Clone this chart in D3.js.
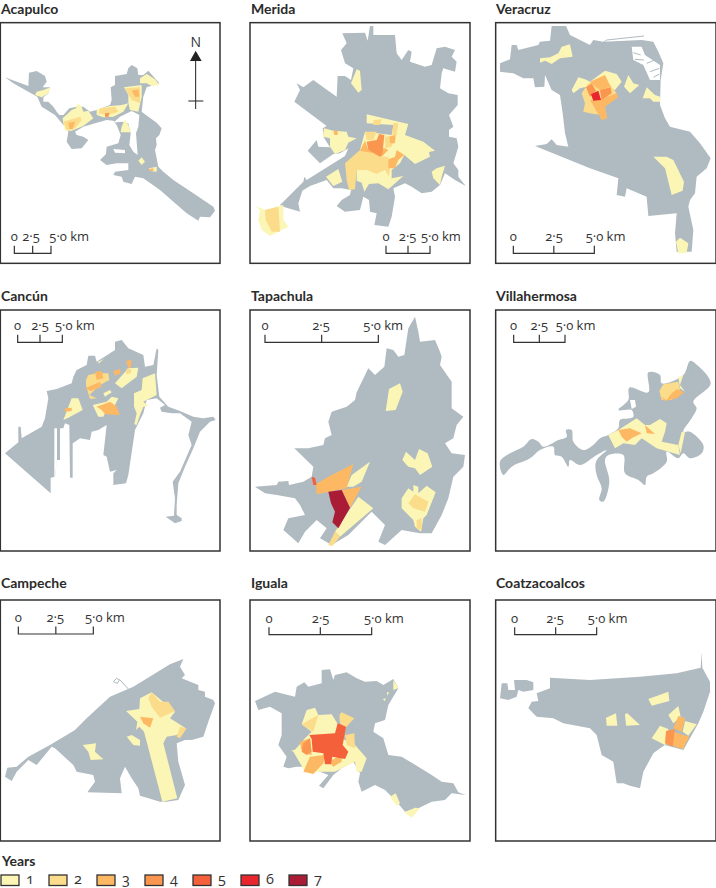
<!DOCTYPE html>
<html><head><meta charset="utf-8">
<script src="https://cdn.jsdelivr.net/npm/d3@7/dist/d3.min.js"></script>
<style>html,body{margin:0;padding:0;background:#fff}svg{display:block}text{font-family:"Open Sans",sans-serif;fill:#333}.ttl{font-family:Lato,sans-serif;font-weight:700;font-size:14px;fill:#2b2b2b}</style>
</head><body><svg id="c" width="716" height="888"></svg>
<script>
const cities=["Acapulco","Merida","Veracruz","Cancún","Tapachula","Villahermosa","Campeche","Iguala","Coatzacoalcos"];
const years=[1,2,3,4,5,6,7];
const yearColours=["#fbf6b6","#fbdc8a","#fdb863","#fb9650","#f4603a","#e8262d","#aa1b36"];
const scaleTicks=[0,2.5,5];

const acapulcoLand=[[[15,232],[30,238],[85,258],[87,218],[110,213],[125,222],[135,228],[140,245],[128,262],[150,262],[145,280],[130,292],[130,305],[145,305],[160,320],[170,335],[178,345],[190,345],[208,325],[230,320],[250,320],[270,335],[290,330],[330,315],[335,300],[332,262],[345,255],[345,228],[380,222],[385,205],[395,195],[412,205],[415,225],[430,225],[445,212],[478,250],[440,262],[430,290],[425,335],[445,350],[470,368],[485,385],[478,405],[468,415],[470,435],[465,450],[475,500],[490,515],[520,540],[580,580],[640,620],[645,632],[630,652],[600,650],[595,662],[560,640],[480,570],[430,535],[405,530],[395,552],[370,545],[365,530],[340,525],[345,515],[385,510],[385,490],[350,490],[320,495],[300,480],[318,462],[320,440],[355,430],[362,405],[350,375],[340,362],[320,360],[285,370],[250,380],[225,395],[230,405],[250,410],[265,420],[245,445],[215,447],[200,425],[205,395],[190,375],[165,345],[125,320],[112,290],[85,275],[40,250]]];
const acapulcoHoles=[[[340,368],[360,350],[395,333],[418,345],[415,380],[408,400],[413,465],[400,455],[388,435],[392,400],[385,370],[365,365]],[[340,447],[375,450],[375,460],[345,458]]];
const acapulcoZones=[
[1,[[110,275],[130,270],[152,262],[145,280],[125,292],[105,285]]],
[1,[[188,355],[215,330],[228,325],[232,310],[245,320],[250,335],[265,332],[280,355],[250,378],[215,392],[195,392],[190,372]]],
[2,[[190,365],[240,350],[245,360],[225,385],[200,390]]],
[3,[[205,368],[225,365],[218,388],[208,388]]],
[1,[[290,328],[330,318],[365,315],[385,310],[370,335],[340,350],[310,352],[290,345]]],
[2,[[300,325],[345,320],[355,335],[325,345],[295,340]]],
[4,[[315,340],[328,338],[325,352],[315,350]]],
[1,[[372,262],[425,255],[425,290],[415,335],[390,330],[385,310],[385,285]]],
[2,[[375,265],[420,262],[420,310],[395,300]]],
[3,[[395,272],[415,268],[418,290],[405,290]]],
[1,[[420,235],[440,222],[465,238],[478,255],[455,258],[440,250],[420,250]]],
[1,[[365,380],[375,358],[385,375],[392,397],[362,397]]],
[1,[[415,482],[425,472],[435,485],[425,495]]],
[1,[[447,505],[470,500],[470,515],[450,513]]],
[3,[[447,507],[460,505],[460,513],[450,513]]]];

const meridaLand=[[[148,305],[165,270],[155,250],[175,262],[205,240],[235,262],[275,290],[278,228],[300,228],[318,240],[325,205],[300,190],[288,150],[305,130],[292,100],[360,98],[368,122],[375,78],[385,78],[385,105],[450,105],[455,160],[470,180],[490,150],[500,155],[495,185],[540,200],[560,195],[575,145],[600,140],[630,150],[620,170],[635,185],[630,215],[595,205],[590,220],[585,265],[610,280],[638,285],[638,315],[612,345],[625,380],[612,390],[612,410],[635,415],[640,440],[625,490],[640,510],[640,530],[662,558],[630,540],[600,520],[585,555],[560,575],[530,580],[500,560],[480,550],[445,565],[450,590],[440,650],[430,680],[388,675],[395,640],[375,635],[372,600],[355,590],[345,630],[300,635],[275,618],[290,600],[315,585],[318,570],[290,565],[265,565],[245,540],[195,558],[172,572],[160,610],[165,635],[115,620],[105,615],[175,545],[178,530],[185,540],[300,468],[310,445],[285,460],[265,462],[225,490],[188,452],[215,420],[220,440],[255,442],[235,410],[233,385],[245,378]]];
const meridaHoles=[];
const meridaZones=[
[1,[[32,618],[60,630],[115,615],[115,660],[130,680],[100,695],[75,708],[50,690],[40,660],[45,630]]],
[2,[[60,630],[100,620],[105,695],[80,695],[62,660]]],
[1,[[237,385],[265,392],[305,395],[310,410],[335,415],[310,428],[300,450],[270,462],[255,440],[255,415],[233,410]]],
[3,[[265,392],[278,392],[278,405],[268,405]]],
[1,[[243,530],[280,507],[292,545],[265,558]]],
[1,[[318,250],[335,208],[345,212],[350,270],[340,278]]],
[1,[[560,515],[575,505],[600,497],[590,530],[585,555],[565,535]]],
[1,[[365,343],[490,372],[480,405],[535,425],[570,452],[552,456],[555,470],[510,492],[478,465],[465,490],[440,510],[440,535],[475,528],[430,568],[400,550],[372,552],[358,575],[350,548],[335,542],[335,510],[400,480],[345,450],[360,395],[440,405],[445,375],[365,370]]],
[2,[[300,490],[345,450],[375,452],[420,470],[430,470],[435,505],[432,530],[420,510],[395,522],[365,510],[335,510],[330,568],[312,570],[305,540]]],
[2,[[420,410],[450,405],[440,440],[420,445]]],
[2,[[385,360],[410,358],[405,375],[385,375]]],
[2,[[445,368],[460,370],[455,405],[442,405]]],
[2,[[360,395],[395,395],[385,420],[365,420]]],
[3,[[433,410],[452,405],[450,430],[435,430]]],
[3,[[345,452],[360,422],[370,450],[400,468],[380,458]]],
[3,[[408,445],[412,468],[430,450],[420,445]]],
[3,[[430,478],[450,470],[455,450],[478,465],[460,480],[450,505],[430,505]]],
[4,[[365,425],[395,420],[402,402],[418,405],[412,465],[405,470],[370,450]]]];

const veracruzLand=[[[30,190],[60,178],[65,135],[80,135],[85,150],[145,135],[150,125],[180,122],[185,78],[228,78],[240,105],[300,135],[310,120],[340,125],[455,120],[490,125],[505,155],[520,190],[512,240],[510,315],[525,355],[540,380],[600,395],[630,430],[662,475],[650,505],[620,530],[615,580],[600,600],[595,620],[610,690],[605,755],[560,755],[555,700],[560,640],[475,648],[470,590],[410,565],[405,590],[380,585],[385,535],[300,505],[135,438],[170,432],[185,418],[200,435],[235,440],[225,400],[218,340],[210,285],[185,270],[165,225],[163,260],[135,262],[130,235],[100,235],[70,220],[30,215]]];
const veracruzHoles=[[[425,140],[455,140],[465,165],[510,195],[510,240],[480,240],[460,195],[430,180]]];
const veracruzLines=[[[340,127],[350,120],[462,108]],[[430,158],[452,165]],[[435,178],[462,180]],[[470,190],[495,180]],[[480,215],[508,205]],[[490,232],[508,222]]];
const veracruzZones=[
[1,[[150,175],[180,172],[205,160],[215,140],[240,133],[248,170],[210,175],[185,192],[165,182],[150,188]]],
[1,[[245,270],[265,232],[285,238],[300,245],[345,212],[380,222],[395,245],[375,270],[330,250],[290,260],[270,265],[250,280]]],
[1,[[402,260],[415,225],[430,250],[448,255],[420,280]]],
[1,[[458,295],[470,262],[495,285],[510,290],[510,305],[490,305],[480,295]]],
[1,[[490,470],[530,470],[550,480],[582,545],[578,572],[545,585],[525,505]]],
[1,[[558,725],[570,713],[595,730],[590,758],[565,760]]],
[2,[[275,280],[295,250],[345,235],[380,280],[345,320],[335,345],[300,340],[280,335],[285,310]]],
[3,[[300,245],[345,225],[362,260],[330,270],[310,255]]],
[3,[[300,300],[325,300],[380,280],[385,292],[345,320],[352,355],[335,360]]],
[4,[[288,262],[305,250],[318,272],[300,290]]],
[4,[[330,270],[362,262],[365,280],[335,300]]],
[6,[[303,283],[325,272],[333,300],[310,302]]]];

const cancunLand=[[[15,505],[55,472],[55,425],[62,425],[65,460],[125,425],[135,400],[145,340],[140,318],[170,312],[215,295],[220,275],[230,255],[260,240],[265,212],[285,212],[290,230],[345,195],[345,170],[365,165],[385,190],[430,210],[435,245],[460,240],[470,190],[475,195],[470,270],[478,335],[505,365],[540,378],[580,395],[610,400],[640,395],[647,405],[630,410],[600,440],[580,490],[555,545],[535,595],[530,660],[530,690],[545,700],[545,708],[525,715],[497,695],[522,692],[525,640],[518,590],[540,560],[575,480],[565,450],[575,410],[540,385],[515,385],[485,380],[480,368],[495,360],[470,340],[440,345],[430,385],[405,435],[385,570],[378,595],[340,600],[340,565],[350,555],[330,560],[320,515],[310,510],[320,420],[295,435],[275,440],[270,465],[240,460],[225,470],[218,475],[218,578],[210,578],[208,420],[195,415],[190,430],[180,430],[180,525],[170,525],[165,575],[152,578],[152,625]]];
const cancunHoles=[[[163,430],[171,430],[171,525],[165,575],[163,575]]];
const cancunZones=[
[1,[[428,280],[465,265],[470,330],[440,345],[430,350],[445,362],[430,365],[420,390],[410,420],[403,418],[410,385],[402,365],[402,325],[425,315]]],
[1,[[345,295],[385,250],[415,248],[410,275],[365,310]]],
[1,[[278,360],[320,350],[335,335],[355,340],[345,360],[320,375],[310,395],[295,395]]],
[1,[[190,405],[215,340],[235,340],[248,375],[205,398]]],
[1,[[310,325],[330,315],[335,322],[315,335]]],
[1,[[295,230],[312,222],[295,236]]],
[2,[[258,285],[265,270],[290,265],[325,265],[328,285],[300,300],[268,330],[290,340],[270,342],[262,315],[258,300]]],
[2,[[380,250],[395,255],[392,265],[378,268]]],
[3,[[285,260],[305,258],[310,280],[290,285]]],
[3,[[255,310],[300,290],[305,305],[272,318]]],
[3,[[340,258],[360,252],[362,265],[345,272]]],
[3,[[378,228],[395,225],[392,248],[385,248]]],
[3,[[195,370],[215,368],[215,378],[195,380]]],
[3,[[290,365],[330,350],[348,362],[360,390],[315,388],[305,375]]]];

const tapachulaLand=[[[30,605],[95,600],[100,590],[130,588],[132,600],[175,590],[200,575],[205,545],[148,490],[190,490],[235,480],[240,460],[260,450],[250,410],[260,380],[305,365],[330,345],[335,322],[370,250],[390,270],[418,245],[425,190],[445,195],[460,215],[478,210],[490,130],[510,95],[520,140],[525,170],[570,165],[585,200],[590,215],[585,240],[620,290],[620,370],[655,395],[635,420],[625,460],[600,475],[620,505],[660,510],[655,545],[625,575],[610,640],[590,690],[560,745],[525,745],[470,735],[420,780],[400,770],[420,720],[380,680],[340,720],[310,750],[260,780],[225,760],[245,730],[215,705],[180,740],[160,775],[115,735],[130,700],[180,690],[165,660],[150,640],[95,630],[60,625]]];
const tapachulaHoles=[];
const tapachulaZones=[
[1,[[422,378],[432,312],[465,295],[473,320],[452,375]]],
[1,[[472,525],[483,500],[510,525],[522,492],[548,505],[562,545],[525,570],[510,550],[490,545]]],
[1,[[470,640],[490,610],[505,620],[505,600],[520,605],[520,625],[545,602],[572,622],[545,690],[535,700],[528,740],[510,725],[505,705],[470,670]]],
[2,[[490,655],[510,628],[550,650],[540,680],[505,670]]],
[2,[[515,705],[530,700],[530,735],[515,730]]],
[1,[[270,740],[340,635],[385,670],[285,755]]],
[1,[[305,605],[320,570],[375,530],[350,590],[325,605]]],
[2,[[250,780],[270,740],[285,755],[262,783]]],
[3,[[213,597],[250,575],[325,537],[310,590],[305,610],[215,628]]],
[3,[[290,615],[350,605],[315,668]]],
[7,[[250,620],[290,615],[315,668],[280,730],[262,712],[270,680],[258,655]]],
[5,[[200,575],[210,578],[215,600],[205,600]]]];

const villahermosaLand=[[[30,530],[60,505],[100,485],[125,462],[145,470],[160,485],[205,465],[230,455],[228,435],[245,435],[250,470],[280,495],[310,480],[330,460],[355,450],[385,430],[390,405],[420,400],[430,395],[425,375],[385,375],[415,345],[418,308],[475,322],[475,262],[510,270],[515,295],[580,270],[600,228],[615,235],[662,295],[610,350],[620,370],[605,400],[580,440],[600,440],[640,480],[635,505],[600,520],[580,505],[565,520],[530,500],[530,530],[490,565],[470,575],[465,600],[445,585],[405,565],[400,510],[355,510],[345,525],[358,590],[340,650],[328,645],[335,610],[320,570],[318,530],[350,495],[320,510],[270,540],[240,525],[235,545],[215,515],[195,510],[190,485],[150,495],[120,520],[65,545],[40,570]]];
const villahermosaHoles=[[[420,345],[435,345],[438,365],[425,372]]];
const villahermosaZones=[
[1,[[355,450],[385,435],[440,400],[465,420],[480,420],[510,402],[530,415],[525,440],[515,470],[565,480],[570,510],[500,490],[455,460],[435,480],[400,475],[375,490],[365,470]]],
[1,[[565,480],[575,440],[585,442],[572,505]]],
[1,[[565,275],[580,270],[570,300],[585,320],[570,310]]],
[2,[[508,318],[520,298],[565,290],[570,315],[545,345],[515,345]]],
[3,[[530,345],[545,325],[562,312],[582,322],[560,340],[525,348],[510,335]]],
[3,[[385,435],[420,430],[455,445],[425,460],[410,470],[395,455]]],
[3,[[465,420],[495,447],[470,445]]]];

const campecheLand=[[[15,605],[22,578],[50,575],[85,545],[150,510],[225,465],[260,430],[330,365],[400,335],[510,268],[550,252],[540,275],[555,300],[545,310],[595,330],[595,345],[615,350],[615,365],[640,375],[645,385],[625,440],[610,485],[575,495],[555,495],[530,505],[535,560],[555,630],[535,675],[500,680],[480,680],[420,662],[415,640],[395,610],[375,575],[360,610],[365,655],[262,652],[285,620],[280,600],[230,590],[220,570],[165,520],[155,515],[110,570],[85,555],[50,590],[35,618]]];
const campecheHoles=[];
const campecheLines=[[[388,345],[360,315],[350,310],[340,320],[352,325],[358,315]]];
const campecheZones=[
[1,[[378,408],[418,402],[420,370],[455,352],[525,410],[510,430],[555,458],[530,480],[500,485],[490,505],[532,670],[487,680],[440,500],[432,470],[418,455],[408,465],[412,440]]],
[1,[[248,510],[288,505],[285,530],[310,553],[272,555],[265,530]]],
[1,[[380,485],[395,480],[420,495],[420,512],[400,510]]],
[2,[[445,370],[455,352],[480,380],[505,380],[525,408],[480,428],[455,395]]],
[2,[[540,455],[560,460],[540,490],[530,485]]],
[3,[[420,425],[460,430],[450,458],[430,445]]]];

const igualaLand=[[[30,378],[90,350],[150,365],[155,335],[178,322],[190,335],[230,325],[230,285],[255,283],[265,315],[270,300],[305,292],[335,310],[360,320],[395,318],[415,330],[445,312],[460,340],[430,390],[420,435],[390,445],[385,470],[415,490],[430,540],[470,545],[495,560],[560,600],[590,620],[625,625],[640,652],[662,660],[620,655],[600,675],[560,680],[520,700],[480,710],[455,680],[435,660],[420,645],[390,630],[350,650],[340,620],[345,595],[325,560],[290,580],[265,600],[235,640],[222,632],[250,600],[225,590],[190,570],[170,575],[155,575],[130,580],[115,575],[125,545],[100,510],[110,480],[110,415],[75,395],[40,405]]];
const igualaHoles=[];
const igualaZones=[
[1,[[445,315],[460,340],[445,345]]],
[1,[[425,352],[432,352],[428,362]]],
[1,[[413,372],[422,370],[420,378]]],
[1,[[435,665],[452,655],[465,685],[455,692]]],
[1,[[478,712],[510,698],[525,700],[500,728]]],
[1,[[170,448],[185,405],[210,398],[220,420],[260,418],[280,450],[270,480],[330,510],[365,550],[350,590],[335,590],[330,560],[270,590],[230,590],[180,590],[145,530],[180,490],[200,470]]],
[2,[[170,448],[220,420],[205,470]]],
[2,[[283,420],[290,412],[328,430],[302,458],[285,445]]],
[2,[[300,480],[328,475],[330,520],[305,510]]],
[3,[[175,590],[195,545],[240,540],[235,565],[205,597]]],
[3,[[165,500],[195,490],[200,540],[170,535]]],
[3,[[250,560],[290,540],[290,560],[265,575]]],
[1,[[138,527],[165,520],[190,540],[185,545]]],
[4,[[175,505],[195,490],[200,530],[185,540],[170,530]]],
[5,[[193,480],[270,475],[278,445],[303,455],[293,510],[310,530],[300,552],[262,545],[258,568],[240,568],[235,535],[203,530],[200,492]]]];

const coatzaLand=[[[30,370],[35,325],[52,325],[55,345],[75,345],[72,315],[110,315],[130,322],[130,345],[100,350],[85,345],[80,365],[55,375]],
[[180,308],[300,315],[450,305],[560,295],[632,278],[635,232],[637,278],[660,320],[660,350],[640,410],[625,445],[580,525],[525,510],[510,520],[490,535],[460,590],[450,640],[420,632],[400,625],[380,625],[370,560],[335,540],[320,480],[300,460],[220,445],[190,430],[140,425],[115,400],[125,380],[145,378],[140,355],[180,340]]];
const coatzaHoles=[];
const coatzaZones=[
[1,[[475,372],[535,350],[538,378],[485,392]]],
[1,[[535,420],[565,393],[572,425],[550,445]]],
[1,[[348,428],[378,415],[382,452],[392,452],[350,452]]],
[1,[[405,417],[412,415],[450,450],[408,452]]],
[1,[[485,490],[510,452],[535,462],[530,505],[525,510]]],
[1,[[585,438],[620,448],[595,482],[578,470]]],
[3,[[550,460],[565,423],[585,430],[575,470]]],
[3,[[550,470],[598,485],[578,523],[548,512]]],
[4,[[528,468],[555,462],[548,515],[525,505]]]];

const lands=[acapulcoLand,meridaLand,veracruzLand,cancunLand,tapachulaLand,villahermosaLand,campecheLand,igualaLand,coatzaLand];
const holes=[acapulcoHoles,meridaHoles,veracruzHoles,cancunHoles,tapachulaHoles,villahermosaHoles,campecheHoles,igualaHoles,coatzaHoles];
const zones=[acapulcoZones,meridaZones,veracruzZones,cancunZones,tapachulaZones,villahermosaZones,campecheZones,igualaZones,coatzaZones];
const lines=[[],[],veracruzLines,[],[],[],campecheLines,[],[]];

/* layout (source-map units, 3 per pixel) */
const originX=[0,245,490], originY=[0,285,575];
const frameX=[[1,660],[15,675],[17,678]], frameY=[[68,790],[75,798],[75,798]];
const titleY=[42,48,40], titleX=[3,18,18];
const barX=[[43,153],[423,555],[70,313],[53,187],[60,400],[71,225],[55,280],[72,380],[74,320]];
const barY=[760,760,760,172,172,172,177,179,179];
const midLabelX=[93,488,192,120,228,148,166,227,195];
const endLabelX=[148,528,287,165,355,197,255,357,293];

const svg=d3.select("#c");
const GREY="#b0bac1",INK="#333";
const color=d3.scaleOrdinal(years,yearColours);

cities.forEach((name,i)=>{
  const col=i%3,row=Math.floor(i/3);
  const x=d3.scaleLinear([0,720],[originX[col],originX[col]+240]);
  const y=d3.scaleLinear([0,720],[originY[row],originY[row]+240]);
  const path=d3.line().x(d=>x(d[0])).y(d=>y(d[1]));
  const closed=p=>path(p)+"Z";
  const smooth=d3.line().x(d=>x(d[0])).y(d=>y(d[1])).curve(d3.curveCatmullRomClosed.alpha(0.5));
  const g=svg.append("g");
  g.append("text").attr("class","ttl").attr("x",x(titleX[col])).attr("y",y(titleY[row])).text(name);
  g.append("rect").attr("x",x(frameX[col][0])).attr("y",y(frameY[row][0]))
    .attr("width",x(frameX[col][1])-x(frameX[col][0])).attr("height",y(frameY[row][1])-y(frameY[row][0]))
    .attr("fill","#fff").attr("stroke",INK).attr("stroke-width",1.5);
  g.selectAll(".land").data(lands[i]).join("path").attr("class","land").attr("d",i===5?smooth:closed).attr("fill",GREY);
  g.selectAll(".hole").data(holes[i]).join("path").attr("class","hole").attr("d",closed).attr("fill","#fff");
  g.selectAll(".ln").data(lines[i]).join("path").attr("class","ln").attr("d",path).attr("fill","none").attr("stroke",GREY).attr("stroke-width",1);
  g.selectAll(".zone").data(zones[i]).join("path").attr("class","zone").attr("d",d=>closed(d[1])).attr("fill",d=>color(d[0]));
  /* scale bar */
  const km=d3.scaleLinear([0,5],[x(barX[i][0]),x(barX[i][1])]);
  const by=y(barY[i]);
  g.append("path").attr("d",`M${km(0)},${by-7.5}V${by}H${km(5)}V${by-7.5}M${km(2.5)},${by-7.5}V${by}`).attr("fill","none").attr("stroke",INK).attr("stroke-width",1.2);
  g.selectAll(".tk").data(scaleTicks).join("text").attr("class","tk").attr("font-size",13).attr("y",by-12)
    .attr("x",d=>d===0?km(0):d===2.5?x(midLabelX[i]):x(endLabelX[i])).attr("text-anchor",d=>d===5?"start":"middle")
    .style("font-variant-numeric","oldstyle-nums")
    .text(d=>d===0?"0":d===2.5?"2·5":"5·0 km");
  if(i===0){
    g.append("path").attr("d",`M${x(570)},${y(183)}L${x(605)},${y(183)}L${x(587)},${y(152)}Z`).attr("fill","#222");
    g.append("path").attr("d",`M${x(587)},${y(183)}V${y(327)}M${x(565)},${y(303)}H${x(610)}`).attr("stroke","#222").attr("stroke-width",1).attr("fill","none");
    g.append("text").attr("x",x(587)).attr("y",y(140)).attr("text-anchor","middle").attr("font-size",14).text("N");
  }
});

/* legend */
const legX=d3.scalePoint(years,[1,289]);
svg.append("text").attr("class","ttl").attr("x",2).attr("y",866).text("Years");
const leg=svg.selectAll(".leg").data(years).join("g").attr("class","leg").attr("transform",d=>`translate(${legX(d)},875)`);
leg.append("rect").attr("width",18).attr("height",10.5).attr("fill",d=>color(d)).attr("stroke",INK).attr("stroke-width",1.3);
leg.append("text").attr("x",25).attr("y",8.5).attr("font-size",14.5).style("font-variant-numeric","oldstyle-nums").text(d=>d);
</script></body></html>
